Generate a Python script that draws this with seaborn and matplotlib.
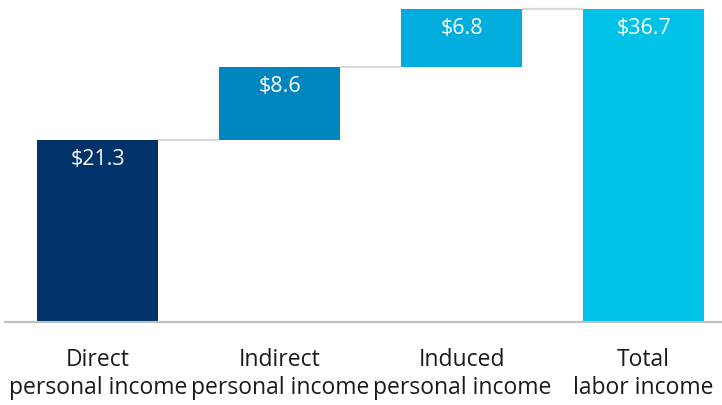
import matplotlib
matplotlib.use("Agg")
import matplotlib.pyplot as plt
import seaborn as sns
import pandas as pd

categories = ["Direct\npersonal income", "Indirect\npersonal income",
              "Induced\npersonal income", "Total\nlabor income"]
values = [21.3, 8.6, 6.8, 36.7]
is_total = [False, False, False, True]
labels = ["$21.3", "$8.6", "$6.8", "$36.7"]
colors = ["#00336A", "#0085BE", "#00ADDC", "#00C2E6"]

# waterfall bases
bases = []
running = 0.0
for v, t in zip(values, is_total):
    if t:
        bases.append(0.0)
    else:
        bases.append(running)
        running += v
tops = [b + v for b, v in zip(bases, values)]

df = pd.DataFrame({"category": categories, "value": values})

sns.set_theme(style="white")
plt.rcParams["font.family"] = ["Open Sans", "DejaVu Sans"]

fig = plt.figure(figsize=(7.22, 4.05), dpi=100)
ax = fig.add_axes([5 / 722, (405 - 322) / 405, 717 / 722, 322 / 405])

sns.barplot(data=df, x="category", y="value", hue="category",
            palette=colors, width=0.665, legend=False, ax=ax,
            saturation=1, linewidth=0)

for patch, b in zip(ax.patches, bases):
    patch.set_y(b)

# connectors
w = 0.665
for i in range(len(values) - 1):
    y = tops[i]
    ax.plot([i + w / 2, i + 1 - w / 2], [y, y], color="#D9D9D9", lw=1.6,
            solid_capstyle="butt", zorder=0)

for i, (t, lab) in enumerate(zip(tops, labels)):
    ax.annotate(lab, (i, t), xytext=(0, -14), textcoords="offset points",
                ha="center", va="center", color="white", fontsize=15.5)

ax.set_xlim(-0.51, 3.43)
ax.set_ylim(0, 322 / 8.53)
ax.set_xlabel("")
ax.set_ylabel("")
ax.set_yticks([])
for s in ["top", "right", "left"]:
    ax.spines[s].set_visible(False)
ax.spines["bottom"].set_color("#BFBFBF")
ax.spines["bottom"].set_linewidth(1.5)
ax.tick_params(axis="x", length=0, labelsize=16.5, colors="#1A1A1A", pad=19)
for t in ax.get_xticklabels():
    t.set_linespacing(1.2)

fig.savefig("out.png", dpi=100)
